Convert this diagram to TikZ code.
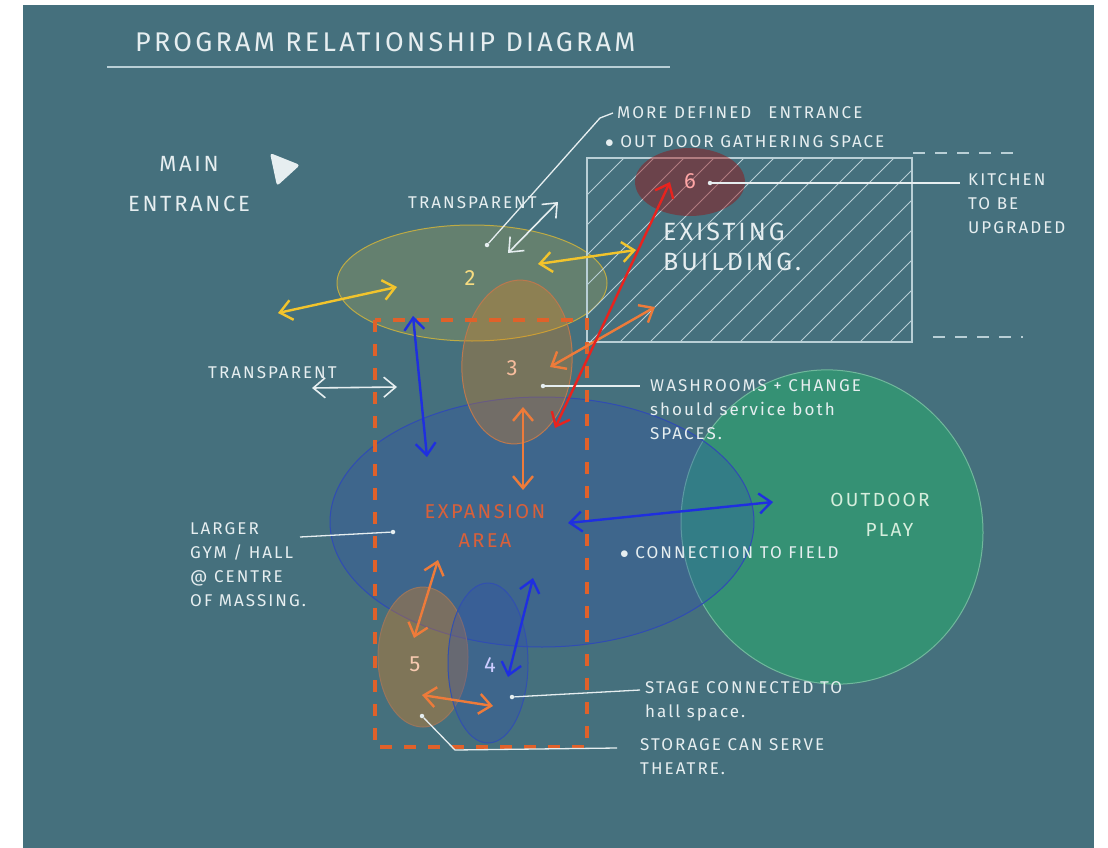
\documentclass[tikz,border=0pt]{standalone}
\usepackage{fontspec}
\setmainfont{Fira Sans}[LetterSpace=12]
\usetikzlibrary{arrows.meta, positioning, shapes.geometric}

\definecolor{board}{HTML}{45707D}
\definecolor{chalk}{HTML}{E6EEF0}
\definecolor{hatchline}{HTML}{B9CFD6}
\definecolor{penyellow}{HTML}{F2C42C}
\definecolor{penorange}{HTML}{EE7B3A}
\definecolor{dashorange}{HTML}{E0612A}
\definecolor{penred}{HTML}{E8231E}
\definecolor{penblue}{HTML}{1F2FE0}
\definecolor{expred}{HTML}{D9603A}
\definecolor{fieldgreen}{HTML}{329A72}
\definecolor{gymblue}{HTML}{3050B0}
\definecolor{palegreen}{HTML}{D6EEDD}

\begin{document}
\begin{tikzpicture}[x=1pt, y=-1pt,
        note/.style={text=chalk, font=\fontsize{17}{24}\selectfont, align=left, anchor=west, inner sep=0pt},
        num/.style={font=\fontsize{22}{22}\selectfont, inner sep=0pt},
        space/.style={ellipse, draw, line width=1pt, inner sep=0pt},
        link/.style={{Straight Barb[length=12pt,width=20pt]}-{Straight Barb[length=12pt,width=20pt]},
                     line width=2.4pt, line cap=round, line join=round},
        leader/.style={chalk, line width=1.3pt},
        spot/.style={circle, fill=chalk, inner sep=0pt, minimum size=4.5pt}]

    % board
    \useasboundingbox (0,0) rectangle (1108,848);
    \fill[white] (0,0) rectangle (1108,848);
    \fill[board] (23,5) rectangle (1094,848);

    % title
    \node[note, font=\fontsize{27}{30}\selectfont] (title) at (135,42) {PROGRAM RELATIONSHIP DIAGRAM};
    \draw[hatchline, line width=2.5pt] (107,67) -- (670,67);

    \node[note, align=center, anchor=center, font=\fontsize{22}{40}\selectfont] (entrance) at (189,184) {MAIN\\ENTRANCE};
    \fill[chalk, rounded corners=3pt] (270,153) -- (300,165) -- (277,186) -- cycle;

    % program spaces
    \node[space, draw=fieldgreen!70!white, fill=fieldgreen, fill opacity=0.8,
          minimum width=300pt, minimum height=316pt, rotate=20] (field) at (832,527) {};
    \node[space, draw=penblue!55!board, fill=gymblue, fill opacity=0.3,
          minimum width=424pt, minimum height=250pt] (gym) at (542,522) {};
    \node[space, draw=penyellow!70!board, fill=yellow!50!brown, fill opacity=0.2,
          minimum width=270pt, minimum height=116pt] (s2) at (472,283) {};
    \node[space, draw=penorange!70!board, fill=orange!70!brown, fill opacity=0.3,
          minimum width=110pt, minimum height=164pt, rotate=-4] (s3) at (517,362) {};
    \node[space, draw=penorange!50!board, fill=orange!70!brown, fill opacity=0.35,
          minimum width=90pt, minimum height=140pt] (s5) at (423,657) {};
    \node[space, draw=penblue!50!board, fill=gymblue, fill opacity=0.3,
          minimum width=80pt, minimum height=160pt] (s4) at (488,663) {};

    % existing building
    \begin{scope}
        \clip (587,158) rectangle (912,342);
        \foreach \k in {0,...,19} {
            \draw[hatchline, line width=0.8pt] (430+\k*30,352) -- ++(200,-200);
        }
    \end{scope}
    \draw[hatchline, line width=1.2pt] (587,158) rectangle (912,342);
    \draw[hatchline, line width=1.2pt, dash pattern=on 12pt off 10pt] (913,153) -- (1020,153);
    \draw[hatchline, line width=1.2pt, dash pattern=on 12pt off 10pt] (933,337) -- (1023,337);
    \node[space, draw=none, fill=red!65!black, fill opacity=0.4,
          minimum width=110pt, minimum height=68pt] (s6) at (690,182) {};

    % expansion boundary
    \draw[dashorange, line width=3.5pt, dash pattern=on 12pt off 12pt] (375,320) rectangle (587,747);

    % space numbers
    \node[num, text=penyellow!60!white] (n2) at (470,278) {2};
    \node[num, text=penorange!50!white] (n3) at (512,368) {3};
    \node[num, text=penorange!40!white] (n5) at (415,664) {5};
    \node[num, text=blue!20!white] (n4) at (490,665) {4};
    \node[num, text=red!35!white] (n6) at (690,181) {6};

    \node[note, align=center, anchor=center, text=expred, font=\fontsize{20}{29}\selectfont] (expansion) at (485,526) {EXPANSION\\AREA};
    \node[note, align=center, anchor=center, text=palegreen, font=\fontsize{19}{30}\selectfont] (play) at (880,515) {OUTDOOR\\\quad PLAY};
    \node[note, font=\fontsize{25}{30}\selectfont] (existing) at (663,247) {EXISTING\\BUILDING.};

    % notes
    \node[note] (transtop) at (408,203) {TRANSPARENT};
    \node[note] (transleft) at (208,373) {TRANSPARENT};
    \node[note] (defined) at (617,113) {MORE DEFINED\quad ENTRANCE};
    \node[note] (gathering) at (605,142) {$\bullet$ OUT DOOR GATHERING SPACE};
    \node[note] (kitchen) at (968,204) {KITCHEN\\TO BE\\UPGRADED};
    \node[note] (washrooms) at (650,410) {WASHROOMS + CHANGE\\should service both\\SPACES.};
    \node[note] (connection) at (620,553) {$\bullet$ CONNECTION TO FIELD};
    \node[note] (larger) at (190,565) {LARGER\\GYM / HALL\\@ CENTRE\\OF MASSING.};
    \node[note] (stage) at (645,701) {STAGE CONNECTED TO\\hall space.};
    \node[note] (storage) at (640,757) {STORAGE CAN SERVE\\THEATRE.};

    % leaders
    \node[spot] (d2) at (487,245) {};
    \node[spot] (d6) at (710,183) {};
    \node[spot] (d3) at (543,386) {};
    \node[spot] (dgym) at (393,532) {};
    \node[spot] (d4) at (512,697) {};
    \node[spot] (d5) at (422,716) {};
    \coordinate (bend2) at (600,118);
    \coordinate (bend5) at (455,750);
    \coordinate (gymfoot) at (300,537);
    \draw[leader] (d2) -- (bend2) -- ([xshift=-4pt]defined.west);
    \draw[leader] (d6) -- ([xshift=-8pt]kitchen.west |- d6);
    \draw[leader] (d3) -- ([xshift=-10pt]washrooms.west |- d3);
    \draw[leader] (gymfoot) -- (dgym);
    \draw[leader] (d4) -- ([xshift=-5pt,yshift=11pt]stage.west);
    \draw[leader] (d5) -- (bend5) -- ([xshift=-23pt,yshift=9pt]storage.west);

    % adjacency arrows
    \coordinate (ya) at (278,313);  \coordinate (yb) at (397,287);
    \coordinate (yc) at (538,264);  \coordinate (yd) at (636,250);
    \coordinate (wa) at (508,253);  \coordinate (wb) at (558,202);
    \coordinate (wc) at (312,388);  \coordinate (wd) at (397,387);
    \coordinate (ba) at (413,316);  \coordinate (bb) at (427,457);
    \coordinate (oa) at (550,367);  \coordinate (ob) at (655,307);
    \coordinate (ra) at (555,428);  \coordinate (rb) at (670,182);
    \coordinate (oc) at (523,407);  \coordinate (od) at (523,490);
    \coordinate (bc) at (568,523);  \coordinate (bd) at (773,502);
    \coordinate (oe) at (438,560);  \coordinate (of) at (414,638);
    \coordinate (be) at (533,578);  \coordinate (bf) at (508,677);
    \coordinate (og) at (422,695);  \coordinate (oh) at (493,706);

    \draw[link, penyellow] (ya) -- (yb);
    \draw[link, penyellow] (yc) -- (yd);
    \draw[link, chalk, line width=1.6pt] (wa) -- (wb);
    \draw[link, chalk, line width=1.6pt] (wc) -- (wd);
    \draw[link, penblue] (ba) -- (bb);
    \draw[link, penorange] (oa) -- (ob);
    \draw[link, penred] (ra) -- (rb);
    \draw[link, penorange] (oc) -- (od);
    \draw[link, penblue] (bc) -- (bd);
    \draw[link, penorange] (oe) -- (of);
    \draw[link, penblue] (be) -- (bf);
    \draw[link, penorange] (og) -- (oh);
\end{tikzpicture}
\end{document}
